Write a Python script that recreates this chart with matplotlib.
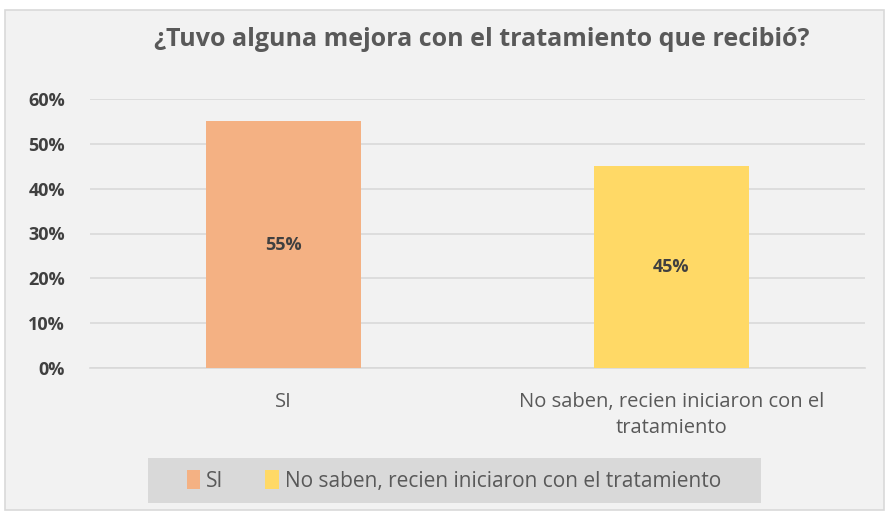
import matplotlib
matplotlib.use("Agg")
import matplotlib.pyplot as plt
from matplotlib.patches import Rectangle, Patch
from matplotlib.ticker import PercentFormatter

categories = ["SI", "No saben, recien iniciaron con el\ntratamiento"]
legend_labels = ["SI", "No saben, recien iniciaron con el tratamiento"]
values = [0.55, 0.45]
value_labels = ["55%", "45%"]
colors = ["#F4B183", "#FFD966"]
title = "¿Tuvo alguna mejora con el tratamiento que recibió?"

plt.rcParams['font.family'] = ["Open Sans", 'DejaVu Sans']

W, H = 885, 512
fig = plt.figure(figsize=(W/100, H/100), dpi=100, facecolor="white")

# outer chart frame
fig.patches.append(Rectangle((5/W, 2/H), 879/W, 500/H, transform=fig.transFigure,
                             facecolor="#F2F2F2", edgecolor="#D9D9D9", lw=1.2, zorder=-5))
# legend background box
fig.patches.append(Rectangle((148/W, 1 - 503/H), 613/W, 45/H, transform=fig.transFigure,
                             facecolor="#D9D9D9", edgecolor="none", zorder=-4))

ax = fig.add_axes([90/W, (H-368)/H, 775/W, 269/H])
ax.set_facecolor("none")
ax.set_zorder(1)
x = range(len(categories))
bars = ax.bar(x, values, width=0.40, color=colors, zorder=3)
ax.set_xlim(-0.5, 1.5)
ax.set_ylim(0, 0.6)
ax.set_yticks([0, 0.1, 0.2, 0.3, 0.4, 0.5, 0.6])
ax.yaxis.set_major_formatter(PercentFormatter(1.0, decimals=0))
ax.grid(axis="y", color="#D9D9D9", lw=1.2, zorder=0)
for s in ax.spines.values():
    s.set_visible(False)
ax.spines["bottom"].set_visible(True)
ax.spines["bottom"].set_color("#D9D9D9")
ax.spines["bottom"].set_linewidth(1.2)
ax.tick_params(axis="both", length=0)
ax.tick_params(axis="y", pad=18, labelsize=13, labelcolor="#404040")
for t in ax.get_yticklabels():
    t.set_fontweight("bold")
ax.set_xticks(list(x))
ax.set_xticklabels(categories, fontsize=14.5, color="#595959", linespacing=1.45)
ax.tick_params(axis="x", pad=17)

for b, lab in zip(bars, value_labels):
    ax.text(b.get_x() + b.get_width()/2, b.get_height()/2, lab, ha="center", va="center",
            fontsize=13, fontweight="bold", color="#404040", zorder=4)

fig.text(482/W, 1 - 40/H, title, ha="center", va="center", fontsize=18,
         fontweight="bold", color="#595959")

handles = [Patch(facecolor=c) for c in colors]
leg = fig.legend(handles, legend_labels, ncol=2, loc="center",
                 bbox_to_anchor=(454/W, 1 - 481/H),
                 frameon=False, fontsize=15, handlelength=0.65, handleheight=1.0,
                 handletextpad=0.3, columnspacing=2.0, borderaxespad=0)
for t in leg.get_texts():
    t.set_color("#595959")

fig.savefig("out.png", dpi=100, facecolor="white")
